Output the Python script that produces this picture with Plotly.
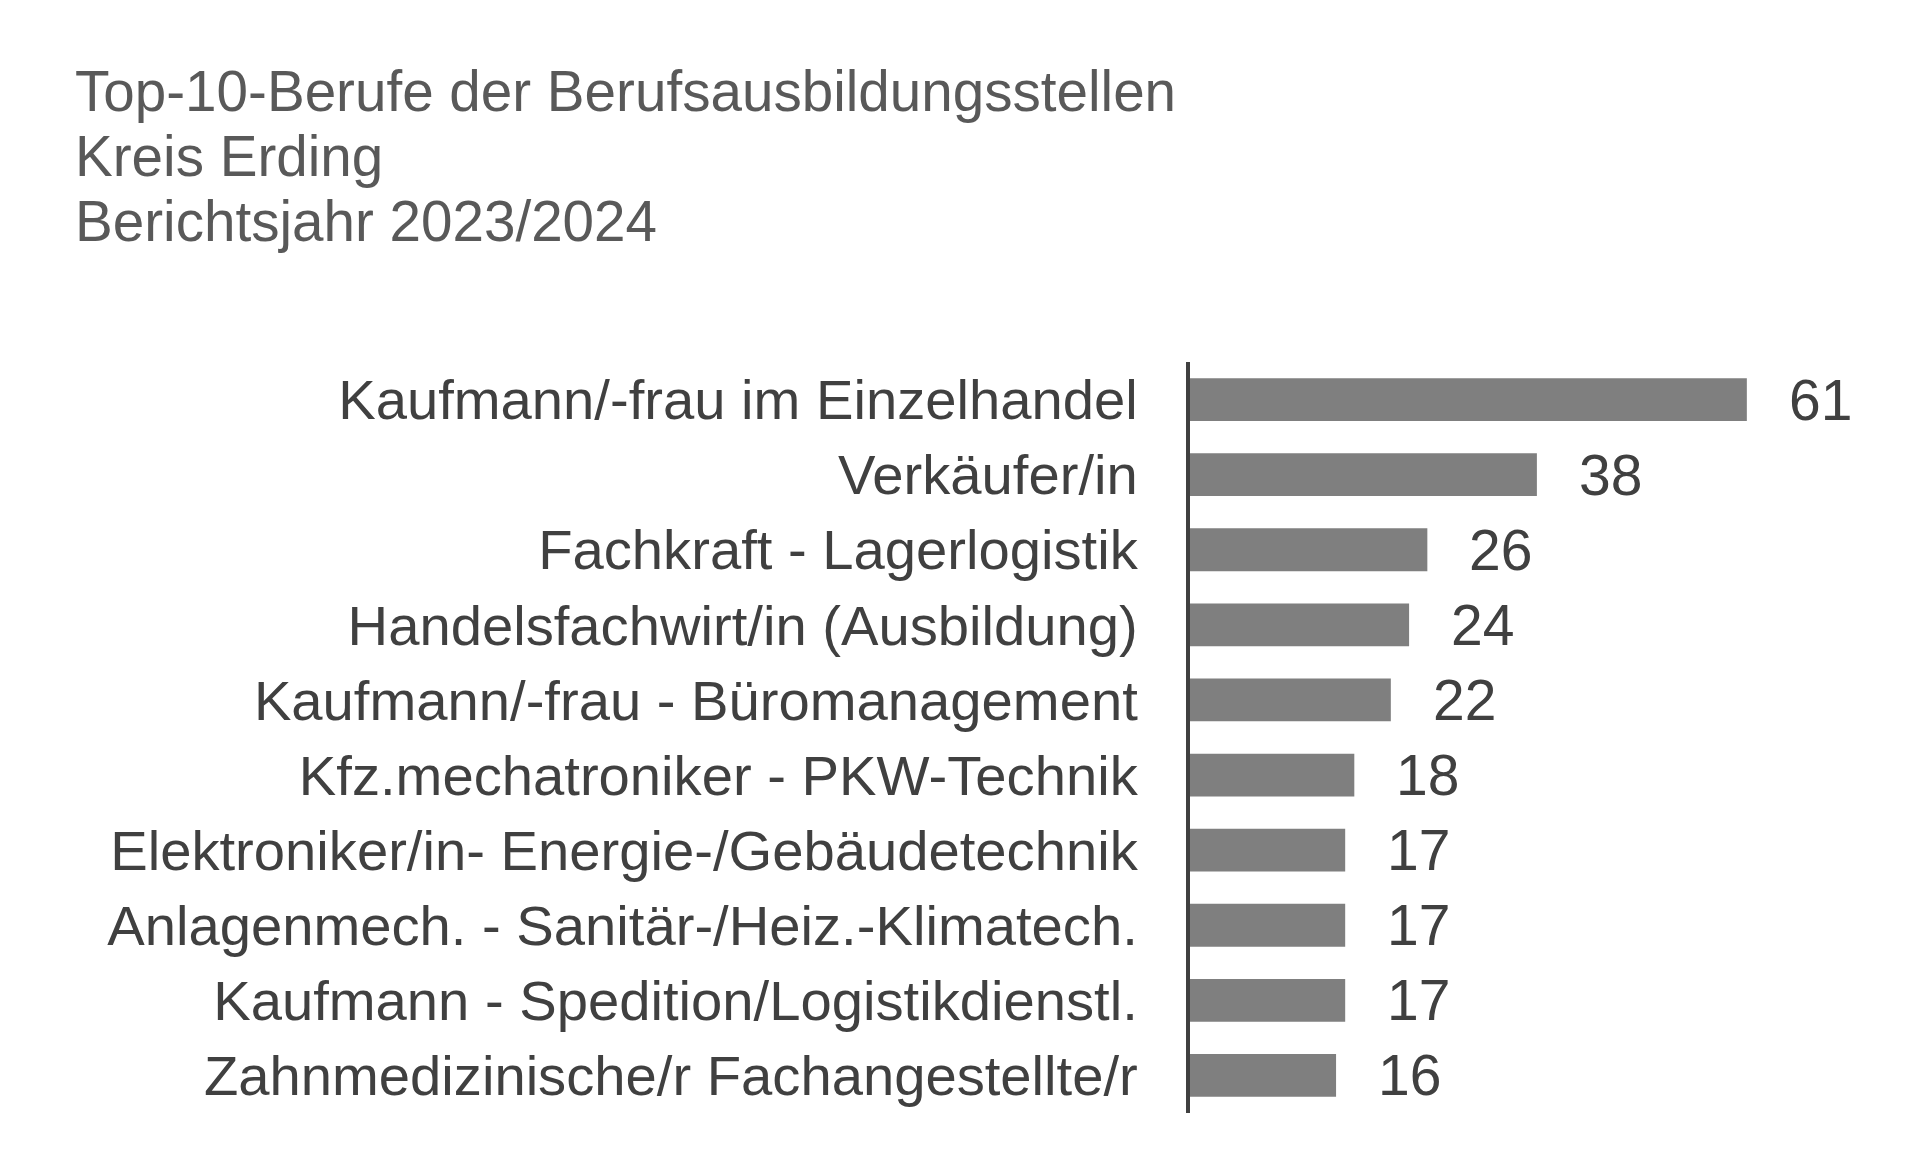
import plotly.graph_objects as go

categories = [
    "Kaufmann/-frau im Einzelhandel",
    "Verkäufer/in",
    "Fachkraft - Lagerlogistik",
    "Handelsfachwirt/in (Ausbildung)",
    "Kaufmann/-frau - Büromanagement",
    "Kfz.mechatroniker - PKW-Technik",
    "Elektroniker/in- Energie-/Gebäudetechnik",
    "Anlagenmech. - Sanitär-/Heiz.-Klimatech.",
    "Kaufmann - Spedition/Logistikdienstl.",
    "Zahnmedizinische/r Fachangestellte/r",
]
values = [61, 38, 26, 24, 22, 18, 17, 17, 17, 16]
title_lines = [
    "Top-10-Berufe der Berufsausbildungsstellen",
    "Kreis Erding",
    "Berichtsjahr 2023/2024",
]

FONT = "Liberation Sans, Arial, sans-serif"
# figure is offset by the 8px default body margin of the page
W, H = 1912, 1155
ML, MR, MT, MB = 1182, 91, 354, 50
plot_h = H - MT - MB
plot_w = W - ML - MR

fig = go.Figure()
fig.add_trace(go.Bar(
    x=values, y=categories, orientation="h",
    marker=dict(color="#7f7f7f", line=dict(width=0)),
    hoverinfo="x+y",
))

annotations = []
for c, v in zip(categories, values):
    annotations.append(dict(
        x=v, y=c, xref="x", yref="y", text=str(v), showarrow=False,
        xanchor="left", yanchor="middle", xshift=40,
        font=dict(family=FONT, size=57, color="#404040"),
    ))

title_y_px = [83, 148.5, 214]
for line, ypx in zip(title_lines, title_y_px):
    annotations.append(dict(
        x=(65 - ML) / plot_w, y=(H - MB - ypx) / plot_h,
        xref="paper", yref="paper", text=line, showarrow=False,
        xanchor="left", yanchor="middle",
        font=dict(family=FONT, size=56.6, color="#595959"),
    ))

fig.update_layout(
    width=W, height=H,
    margin=dict(l=ML, r=MR, t=MT, b=MB, pad=0),
    paper_bgcolor="white", plot_bgcolor="white",
    bargap=0.43,
    showlegend=False,
    annotations=annotations,
    xaxis=dict(range=[0, 70], visible=False, fixedrange=True),
    yaxis=dict(
        autorange="reversed", showline=True, linecolor="#404040", linewidth=4,
        showgrid=False, zeroline=False, ticks="", ticklabelstandoff=37,
        tickfont=dict(family=FONT, size=56.2, color="#404040"),
        fixedrange=True,
    ),
)

fig.write_html("out.html")
